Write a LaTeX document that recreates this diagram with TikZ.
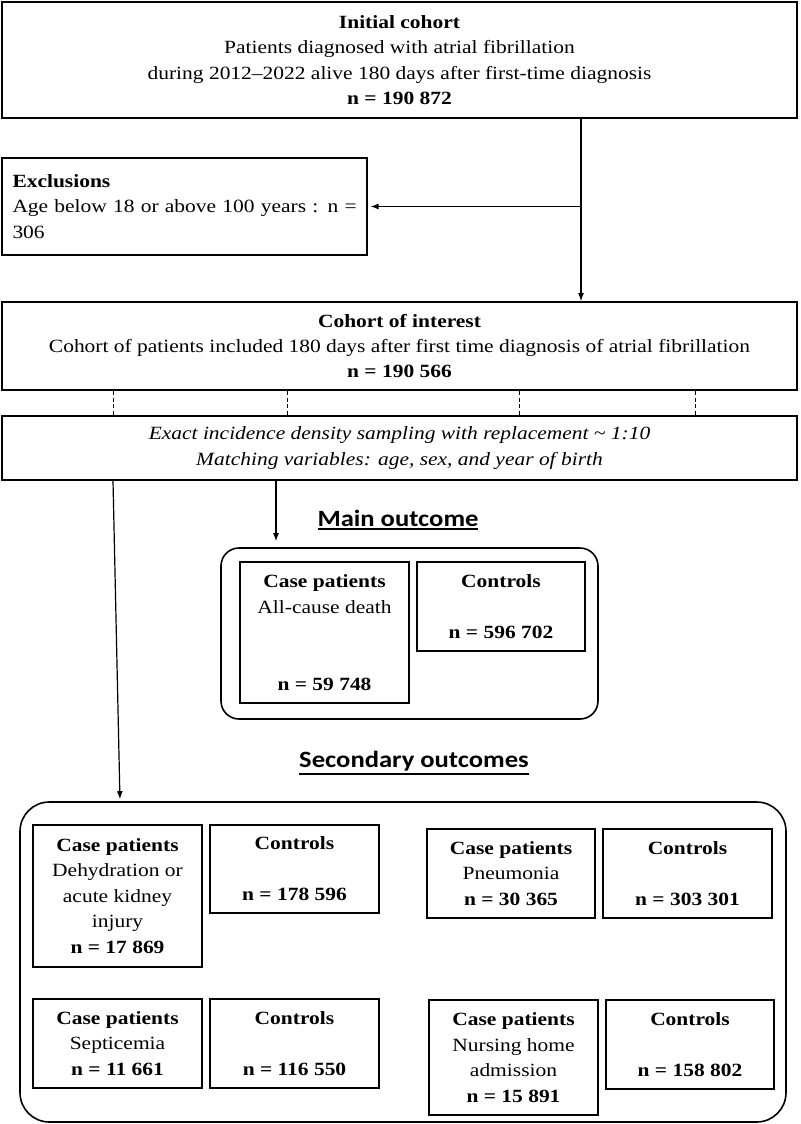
\documentclass[tikz,border=0pt]{standalone}
\usepackage{fontspec}
\setmainfont{Liberation Serif}[FakeStretch=1.15]
\newfontfamily\headfont{Carlito}[FakeStretch=1.14]
\usetikzlibrary{arrows.meta}
\newcommand{\ulhead}[1]{\setbox0=\hbox{#1}\vtop{\box0\kern1.5pt\hrule height 1.3pt}}
\begin{document}
\begin{tikzpicture}[x=0.75pt,y=-0.75pt,
	box/.style={draw,line width=1.3pt,align=center,inner sep=0pt,font=\fontsize{14}{19.1}\selectfont},
	group/.style={draw,line width=1.2pt,inner sep=0pt},
	heading/.style={font=\headfont\bfseries\fontsize{17.5}{21}\selectfont},
	link/.style={line width=0.9pt},
	tip/.style={-{Latex[length=6pt,width=4.5pt]}},
	dashlink/.style={line width=0.5pt,dash pattern=on 3pt off 2pt}]
	\useasboundingbox (0,0) rectangle (800,1124);

	% Cohort boxes
	\node[box,minimum width=596.25pt,minimum height=87pt] (init) at (399.5,60) {\textbf{Initial cohort}\\Patients diagnosed with atrial fibrillation\\during 2012--2022 alive 180 days after first-time diagnosis\\\textbf{n = 190 872}};
	\node[box,align=left,text width=258pt,inner xsep=7.9pt,minimum height=72.75pt] (excl) at (184.5,206.5) {\textbf{Exclusions}\\\mbox{Age below 18 or above 100 years : n =}\\306};
	\node[box,minimum width=596.25pt,minimum height=66pt] (interest) at (399.5,346) {\textbf{Cohort of interest}\\Cohort of patients included 180 days after first time diagnosis of atrial fibrillation\\\textbf{n = 190 566}};
	\node[box,minimum width=596.25pt,minimum height=48pt] (sampling) at (399.5,448) {\itshape Exact incidence density sampling with replacement \textasciitilde\ 1:10\\\itshape Matching variables: age, sex, and year of birth};

	% Main outcome
	\node[heading] (mainlab) at (398,520) {\ulhead{Main outcome}};
	\node[group,rounded corners=13.5pt,minimum width=282.75pt,minimum height=128.25pt] (mainbox) at (409.5,633.5) {};
	\node[box,minimum width=126.75pt,minimum height=105.75pt] (mcase) at (324.5,632.5) {\textbf{Case patients}\\All-cause death\\[38.6pt]\textbf{n = 59 748}};
	\node[box,minimum width=126pt,minimum height=66.75pt] (mctrl) at (501,606.5) {\textbf{Controls}\\[19.1pt]\textbf{n = 596 702}};

	% Secondary outcomes
	\node[heading] (seclab) at (414,763) {\ulhead{Secondary outcomes}};
	\node[group,rounded corners=22pt,minimum width=574.5pt,minimum height=240pt] (secbox) at (403,962) {};
	\node[box,minimum width=126.75pt,minimum height=106.5pt] (dcase) at (117.5,896) {\textbf{Case patients}\\Dehydration or\\acute kidney\\injury\\\textbf{n = 17 869}};
	\node[box,minimum width=126.75pt,minimum height=66pt] (dctrl) at (294.5,869) {\textbf{Controls}\\[19.1pt]\textbf{n = 178 596}};
	\node[box,minimum width=126pt,minimum height=66.75pt] (pcase) at (511,873.5) {\textbf{Case patients}\\Pneumonia\\\textbf{n = 30 365}};
	\node[box,minimum width=126.75pt,minimum height=66.75pt] (pctrl) at (687.5,873.5) {\textbf{Controls}\\[19.1pt]\textbf{n = 303 301}};
	\node[box,minimum width=126.75pt,minimum height=66.75pt] (scase) at (117.5,1043.5) {\textbf{Case patients}\\Septicemia\\\textbf{n = 11 661}};
	\node[box,minimum width=126.75pt,minimum height=66.75pt] (sctrl) at (294.5,1043.5) {\textbf{Controls}\\[19.1pt]\textbf{n = 116 550}};
	\node[box,minimum width=126.75pt,minimum height=86.25pt] (ncase) at (513.5,1057.5) {\textbf{Case patients}\\Nursing home\\admission\\\textbf{n = 15 891}};
	\node[box,minimum width=126pt,minimum height=66.75pt] (nctrl) at (690,1044.5) {\textbf{Controls}\\[19.1pt]\textbf{n = 158 802}};

	% Connectors
	\coordinate (turn) at (581,206.5);
	\draw[link] (init.south -| turn) -- (turn);
	\draw[link,tip] (turn) -- (interest.north -| turn);
	\draw[link,tip,shorten >=2pt] (turn) -- (excl.east);
	\foreach \x in {113,287,519,695} {
		\coordinate (tick) at (\x,0);
		\draw[dashlink] (interest.south -| tick) -- (sampling.north -| tick);
	}
	\coordinate (mainx) at (276,0);
	\coordinate (secxa) at (113,0);
	\coordinate (secxb) at (120,0);
	\draw[link,tip,shorten >=4.5pt] (sampling.south -| mainx) -- (mainbox.north -| mainx);
	\draw[link,tip,shorten >=1.5pt] (sampling.south -| secxa) -- (secbox.north -| secxb);
\end{tikzpicture}
\end{document}
